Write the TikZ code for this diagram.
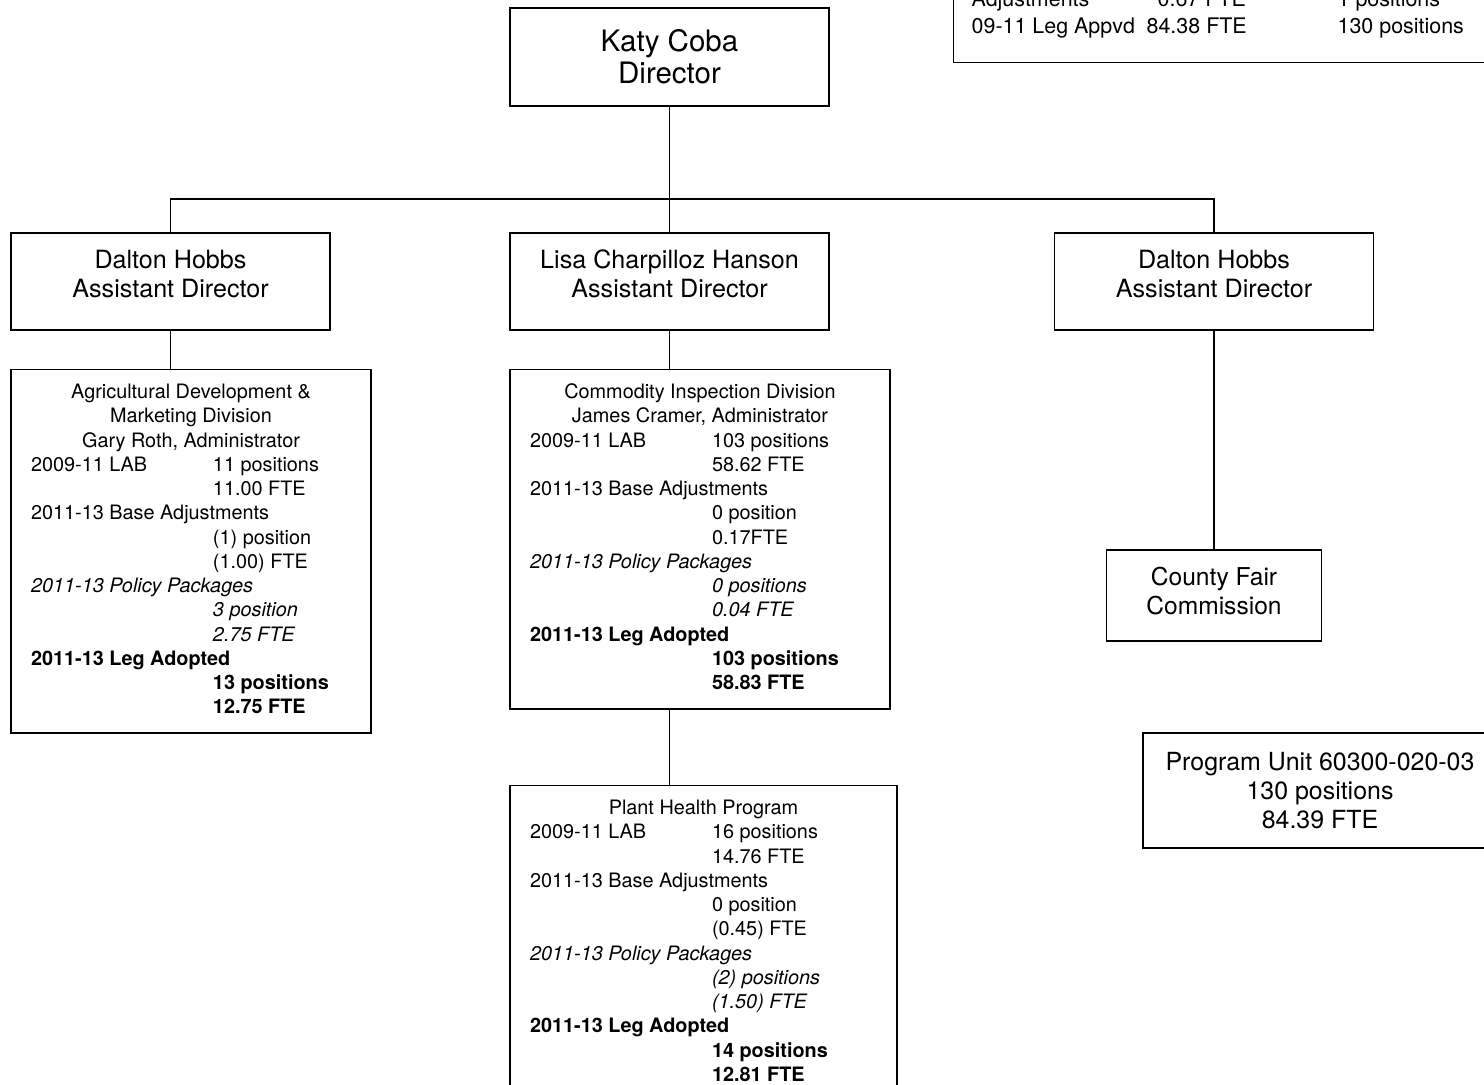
\documentclass[tikz,border=0pt]{standalone}
\usepackage{fontspec}
\setmainfont{TeX Gyre Heros}
\usepackage{array}
\usetikzlibrary{positioning, calc}
\tikzset{
  topbox/.style={rectangle, draw=black, line width=0.8pt, minimum width=6.38cm, minimum height=1.96cm, align=center, font=\fontsize{16.8}{18.1}\selectfont},
  assistant/.style={rectangle, draw=black, line width=0.8pt, minimum width=6.38cm, minimum height=1.94cm, align=center, text depth=9pt, font=\fontsize{14.3}{16.4}\selectfont},
  division/.style={rectangle, draw=black, line width=0.8pt, anchor=north, inner xsep=0.4cm, inner ysep=0.24cm, font=\fontsize{11.3}{13.8}\selectfont},
  unitbox/.style={rectangle, draw=black, line width=0.8pt, align=center, font=\fontsize{14}{16.4}\selectfont},
  orgline/.style={draw, line width=1.1pt}
}

\begin{document}
\begin{tikzpicture}[x=0.02cm, y=-0.02cm]
        \clip (0,0) rectangle (1484,1085);
        % Nodes
        \node (director) [topbox] at (669.5,57) {Katy Coba\\Director};
        \coordinate (bus) at (669.5,199);
        \node (ad_left) [assistant] at (170.5,281.5) {Dalton Hobbs\\Assistant Director};
        \node (ad_mid) [assistant] at (669.5,281.5) {Lisa Charpilloz Hanson\\Assistant Director};
        \node (ad_right) [assistant] at (1214,281.5) {Dalton Hobbs\\Assistant Director};

        \node (ag_div) [division] at (191,369) {%
          \begin{tabular}{@{}p{3.64cm}@{}p{2.76cm}@{}}
          \multicolumn{2}{@{}c@{}}{Agricultural Development \&}\\
          \multicolumn{2}{@{}c@{}}{Marketing Division}\\
          \multicolumn{2}{@{}c@{}}{Gary Roth, Administrator}\\
          2009-11 LAB & 11 positions\\
          & 11.00 FTE\\
          \multicolumn{2}{@{}l@{}}{2011-13 Base Adjustments}\\
          & (1) position\\
          & (1.00) FTE\\
          \multicolumn{2}{@{}l@{}}{\itshape 2011-13 Policy Packages}\\
          & \itshape 3 position\\
          & \itshape 2.75 FTE\\
          \multicolumn{2}{@{}l@{}}{\bfseries 2011-13 Leg Adopted}\\
          & \bfseries 13 positions\\
          & \bfseries 12.75 FTE
          \end{tabular}};
        \node (com_div) [division] at (700,369) {%
          \begin{tabular}{@{}p{3.64cm}@{}p{3.16cm}@{}}
          \multicolumn{2}{@{}c@{}}{Commodity Inspection Division}\\
          \multicolumn{2}{@{}c@{}}{James Cramer, Administrator}\\
          2009-11 LAB & 103 positions\\
          & 58.62 FTE\\
          \multicolumn{2}{@{}l@{}}{2011-13 Base Adjustments}\\
          & 0 position\\
          & 0.17FTE\\
          \multicolumn{2}{@{}l@{}}{\itshape 2011-13 Policy Packages}\\
          & \itshape 0 positions\\
          & \itshape 0.04 FTE\\
          \multicolumn{2}{@{}l@{}}{\bfseries 2011-13 Leg Adopted}\\
          & \bfseries 103 positions\\
          & \bfseries 58.83 FTE
          \end{tabular}};
        \node (plant_health) [division] at (703.5,785) {%
          \begin{tabular}{@{}p{3.64cm}@{}p{3.30cm}@{}}
          \multicolumn{2}{@{}c@{}}{Plant Health Program}\\
          2009-11 LAB & 16 positions\\
          & 14.76 FTE\\
          \multicolumn{2}{@{}l@{}}{2011-13 Base Adjustments}\\
          & 0 position\\
          & (0.45) FTE\\
          \multicolumn{2}{@{}l@{}}{\itshape 2011-13 Policy Packages}\\
          & \itshape (2) positions\\
          & \itshape (1.50) FTE\\
          \multicolumn{2}{@{}l@{}}{\bfseries 2011-13 Leg Adopted}\\
          & \bfseries 14 positions\\
          & \bfseries 12.81 FTE
          \end{tabular}};

        \node (county_fair) [unitbox, minimum width=4.3cm, minimum height=1.82cm, text depth=5pt] at (1214,595.5) {County Fair\\Commission};
        \node (prog_unit) [unitbox, minimum width=7.08cm, minimum height=2.3cm, font=\fontsize{14.2}{16.4}\selectfont] at (1320,790.5) {Program Unit 60300-020-03\\130 positions\\84.39 FTE};
        \node (summary) [rectangle, draw=black, line width=0.8pt, anchor=south west, minimum width=11cm, inner xsep=0.36cm, inner ysep=0.42cm, font=\fontsize{12.2}{15.3}\selectfont] at (953,63) {%
          \begin{tabular}{@{}p{3.5cm}@{}p{3.82cm}@{}l@{}}
          Adjustments & \hspace*{0.22cm}0.67 FTE & 1 positions\\
          09-11 Leg Appvd & 84.38 FTE & 130 positions
          \end{tabular}\hspace*{0.6cm}};

        % Reporting lines
        \draw [orgline] (director.south) -- (bus) -| (ad_left.north);
        \draw [orgline] (bus) -| (ad_right.north);
        \draw [orgline] (bus) -- (ad_mid.north);
        \draw [orgline] (ad_left.south) -- (ad_left.south |- ag_div.north);
        \draw [orgline] (ad_mid.south) -- (ad_mid.south |- com_div.north);
        \draw [orgline] (ad_mid.south |- com_div.south) -- (ad_mid.south |- plant_health.north);
        \draw [orgline] (ad_right.south) -- (county_fair.north);
\end{tikzpicture}
\end{document}
